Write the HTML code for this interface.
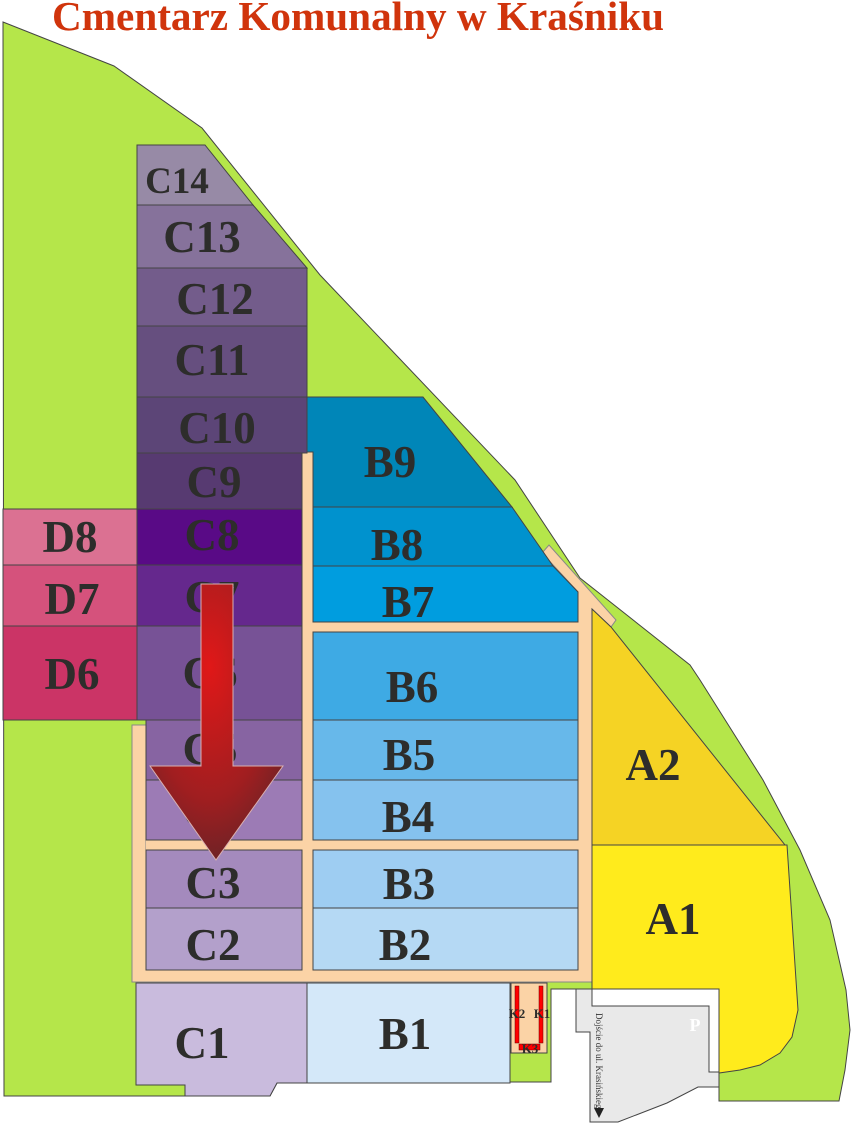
<!DOCTYPE html>
<html><head><meta charset="utf-8"><style>
html,body{margin:0;padding:0;background:#fff;width:852px;height:1123px;overflow:hidden}
svg{display:block}
.l{font-family:"Liberation Serif",serif;font-weight:bold;fill:#2d2d2b;text-anchor:middle}
</style></head><body>
<svg width="852" height="1123" viewBox="0 0 852 1123" xmlns="http://www.w3.org/2000/svg">
<defs>
<radialGradient id="ag" cx="0.45" cy="0.3" r="0.8">
<stop offset="0" stop-color="#e01818"/><stop offset="0.6" stop-color="#a01e20"/><stop offset="1" stop-color="#5a2428"/>
</radialGradient>
</defs>
<text x="52" y="30" font-family="Liberation Serif,serif" font-weight="bold" font-size="41" fill="#d0340c" textLength="612" lengthAdjust="spacingAndGlyphs">Cmentarz Komunalny w Kraśniku</text>
<g stroke="#444" stroke-width="1">
<polygon fill="#b5e64a" points="3,22 114,66 202,128 320,275 515,480 580,578 690,665 700,680 763,780 800,850 830,920 846,990 850,1030 845,1070 839,1101 719,1101 719,1073 719,989 592,989 551,989 551,1082 510,1082 510,1083 307,1083 277,1083 270,1096 185,1096 4,1096"/>
<polygon fill="#fbd3a6" stroke="#888" points="132,725 146,725 146,970 302,970 302,452 313,452 313,622 578,622 578,592 542,553 549,545 616,620 611,627 592,609 592,982 132,982"/>
<rect x="146" y="840" width="432" height="10" fill="#fbd3a6" stroke="none"/>
<polygon fill="#978aa6" points="137,145 205,145 253,205 137,205"/>
<polygon fill="#86729b" points="137,205 253,205 307,268 137,268"/>
<rect x="137" y="268" width="170" height="58" fill="#735c8b"/>
<rect x="137" y="326" width="170" height="71" fill="#664f7f"/>
<rect x="137" y="397" width="170" height="56" fill="#5c4577"/>
<rect x="137" y="453" width="165" height="56" fill="#573a71"/>
<rect x="137" y="509" width="165" height="56" fill="#590a86"/>
<rect x="137" y="565" width="165" height="61" fill="#65288d"/>
<rect x="137" y="626" width="165" height="94" fill="#775296"/>
<rect x="146" y="720" width="156" height="60" fill="#8764a2"/>
<rect x="146" y="780" width="156" height="60" fill="#9c7bb5"/>
<rect x="146" y="850" width="156" height="58" fill="#a48abd"/>
<rect x="146" y="908" width="156" height="62" fill="#b3a0cb"/>
<polygon fill="#c9bbdd" points="136,983 307,983 307,1083 277,1083 270,1096 185,1096 185,1085 136,1085"/>
<rect x="3" y="509" width="134" height="56" fill="#db7192"/>
<rect x="3" y="565" width="134" height="61" fill="#d5527c"/>
<rect x="3" y="626" width="134" height="94" fill="#cb3466"/>
<polygon fill="#0086b8" points="307,397 423,397 512,507 313,507 313,452 307,452"/>
<polygon fill="#0092ce" points="313,507 512,507 553,566 313,566"/>
<polygon fill="#009ddf" points="313,566 553,566 578,592 578,622 313,622"/>
<rect x="313" y="632" width="265" height="88" fill="#3eaae4"/>
<rect x="313" y="720" width="265" height="60" fill="#67b8ea"/>
<rect x="313" y="780" width="265" height="60" fill="#85c2ee"/>
<rect x="313" y="850" width="265" height="58" fill="#9ecdf2"/>
<rect x="313" y="908" width="265" height="62" fill="#b5d9f4"/>
<rect x="307" y="983" width="203" height="100" fill="#d4e8f9"/>
<polygon fill="#f5d324" points="592,609 611,627 785,845 592,845"/>
<polygon fill="#ffeb1c" points="592,845 787,845 798,1010 792,1037 780,1053 760,1065 740,1070 719,1073 719,989 592,989"/>
<polygon fill="#e9e9e9" points="576,989 592,989 592,1006 709,1006 709,1072 719,1072 719,1087 698,1087 667,1103 618,1122 590,1122 590,1032 576,1032"/>
<rect x="511" y="983" width="36" height="70" fill="#fbd3a6"/>
</g>
<rect x="515" y="986" width="4" height="57" fill="#f00" stroke="#600" stroke-width="0.5"/>
<rect x="539" y="986" width="4" height="57" fill="#f00" stroke="#600" stroke-width="0.5"/>
<rect x="519" y="1044" width="21" height="6" fill="#f00" stroke="#600" stroke-width="0.5"/>
<g class="l" font-size="13"><text x="517" y="1018">K2</text><text x="542" y="1018">K1</text><text x="530" y="1053">K3</text></g>
<text x="695" y="1031" font-family="Liberation Serif,serif" font-weight="bold" font-size="18" fill="#fff" text-anchor="middle">P</text>
<text transform="translate(596,1013) rotate(90)" font-family="Liberation Serif,serif" font-size="9" fill="#333">Dojście do ul. Krasińskiego</text>
<polygon points="594,1108 604,1108 599,1118" fill="#222"/>
<g class="l" font-size="45">
<text x="177" y="193" font-size="37">C14</text>
<text x="202" y="252">C13</text>
<text x="215" y="314">C12</text>
<text x="212" y="375">C11</text>
<text x="217" y="443">C10</text>
<text x="214" y="497">C9</text>
<text x="212" y="550">C8</text>
<text x="212" y="612">C7</text>
<text x="210" y="688">C6</text>
<text x="210" y="764">C5</text>
<text x="210" y="826">C4</text>
<text x="213" y="898">C3</text>
<text x="213" y="960">C2</text>
<text x="202" y="1058">C1</text>
<text x="70" y="552">D8</text>
<text x="72" y="614">D7</text>
<text x="72" y="689">D6</text>
<text x="390" y="477">B9</text>
<text x="397" y="560">B8</text>
<text x="408" y="617">B7</text>
<text x="412" y="702">B6</text>
<text x="409" y="770">B5</text>
<text x="408" y="832">B4</text>
<text x="409" y="899">B3</text>
<text x="405" y="960">B2</text>
<text x="405" y="1049">B1</text>
<text x="653" y="780">A2</text>
<text x="673" y="934">A1</text>
</g>
<polygon fill="url(#ag)" stroke="#d9b0b0" stroke-width="1" points="201,584 233,584 233,766 283,766 216,860 150,766 201,766"/>
</svg>
</body></html>
